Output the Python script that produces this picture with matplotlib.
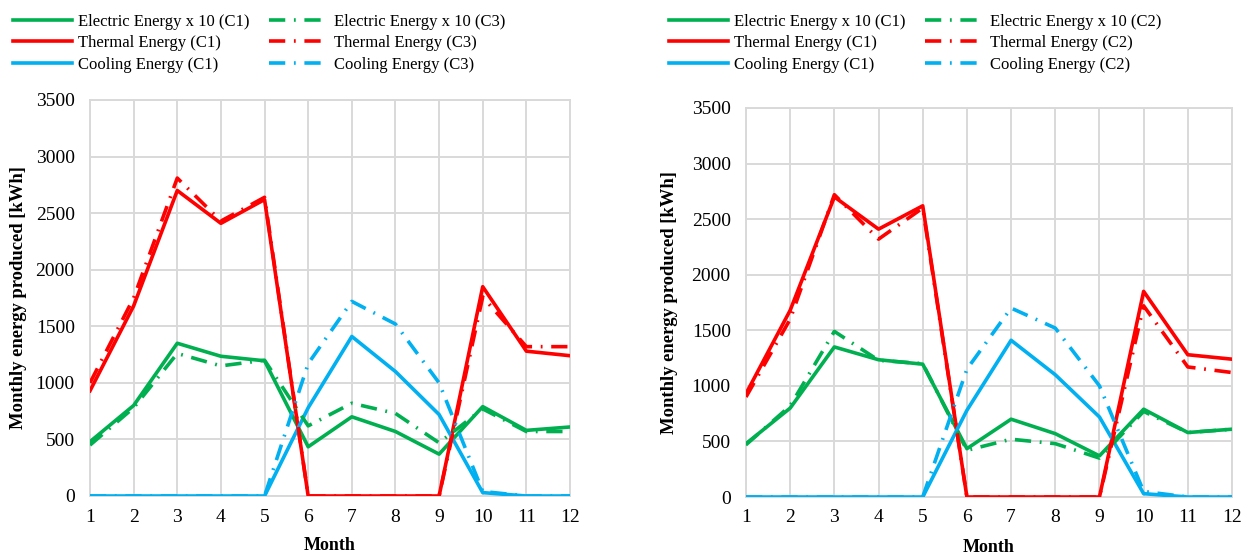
import matplotlib
matplotlib.use("Agg")
import matplotlib.pyplot as plt

months = list(range(1, 13))

elec_c1 = [480, 800, 1350, 1235, 1195, 435, 700, 570, 370, 790, 580, 610]
therm_c1 = [930, 1680, 2700, 2410, 2620, 0, 0, 0, 0, 1850, 1280, 1240]
cool_c1 = [0, 0, 0, 0, 0, 780, 1410, 1100, 720, 30, 0, 0]

elec_c3 = [450, 780, 1260, 1150, 1200, 620, 820, 730, 470, 770, 570, 570]
therm_c3 = [1000, 1750, 2810, 2430, 2640, 0, 0, 0, 0, 1760, 1320, 1320]
cool_c3 = [0, 0, 0, 0, 0, 1170, 1720, 1520, 1000, 40, 0, 0]

elec_c2 = [470, 820, 1490, 1230, 1200, 420, 520, 480, 350, 770, 580, 610]
therm_c2 = [900, 1600, 2720, 2320, 2600, 0, 0, 0, 0, 1720, 1170, 1120]
cool_c2 = [0, 0, 0, 0, 0, 1150, 1700, 1520, 1000, 50, 0, 0]

yticks = [0, 500, 1000, 1500, 2000, 2500, 3000, 3500]

GREEN = "#00B050"
RED = "#FF0000"
BLUE = "#00B0F0"
GRID = "#D9D9D9"
DASH = (0, (4.5, 2.4, 0.5, 2.4))

plt.rcParams['font.family'] = ['Liberation Serif', 'DejaVu Serif']

W, H = 1258, 556
fig = plt.figure(figsize=(W / 100, H / 100), dpi=100)
ax1 = fig.add_axes([90 / W, 1 - 496 / H, 480 / W, 396 / H])
ax2 = fig.add_axes([746 / W, 1 - 497 / H, 486 / W, 389 / H])


def draw(ax, e1, t1, c1, e2, t2, c2, tag, leg_x, ylab_x, xlab_y):
    lw = 2.6
    ax.plot(months, e1, color=GREEN, lw=lw, label="Electric Energy x 10 (C1)", zorder=3)
    ax.plot(months, t1, color=RED, lw=lw, label="Thermal Energy (C1)", zorder=3)
    ax.plot(months, c1, color=BLUE, lw=lw, label="Cooling Energy (C1)", zorder=3)
    ax.plot(months, e2, color=GREEN, lw=lw, ls=DASH, label=f"Electric Energy x 10 ({tag})", zorder=3)
    ax.plot(months, t2, color=RED, lw=lw, ls=DASH, label=f"Thermal Energy ({tag})", zorder=3)
    ax.plot(months, c2, color=BLUE, lw=lw, ls=DASH, label=f"Cooling Energy ({tag})", zorder=3)
    ax.set_xlim(1, 12)
    ax.set_ylim(0, 3500)
    ax.set_xticks(months)
    ax.set_yticks(yticks)
    ax.grid(True, color=GRID, lw=1.4, zorder=0)
    ax.set_axisbelow(True)
    for s in ax.spines.values():
        s.set_color(GRID)
        s.set_linewidth(1.4)
    ax.tick_params(axis="y", length=0, labelsize=14, pad=11)
    ax.tick_params(axis="x", length=0, labelsize=14, pad=9)
    ax.set_xlabel("Month", fontsize=13, fontweight="bold", va="center")
    ax.set_ylabel("Monthly energy produced [kWh]", fontsize=13.4, fontweight="bold", va="center")
    ax.xaxis.set_label_coords(0.5, xlab_y)
    ax.yaxis.set_label_coords(ylab_x, 0.5)
    ax.legend(ncol=2, loc="upper left", bbox_to_anchor=(leg_x / W, 1 - 14 / H),
              bbox_transform=fig.transFigure, frameon=False, borderpad=0,
              fontsize=12, handlelength=3.55, columnspacing=1.15, labelspacing=0.32,
              handletextpad=0.36, borderaxespad=0)


draw(ax1, elec_c1, therm_c1, cool_c1, elec_c3, therm_c3, cool_c3, "C3",
     13, (19 - 90) / 480, -(545 - 496) / 396)
draw(ax2, elec_c1, therm_c1, cool_c1, elec_c2, therm_c2, cool_c2, "C2",
     669, (670 - 746) / 486, -(547 - 497) / 389)

fig.savefig("out.png", dpi=100)
